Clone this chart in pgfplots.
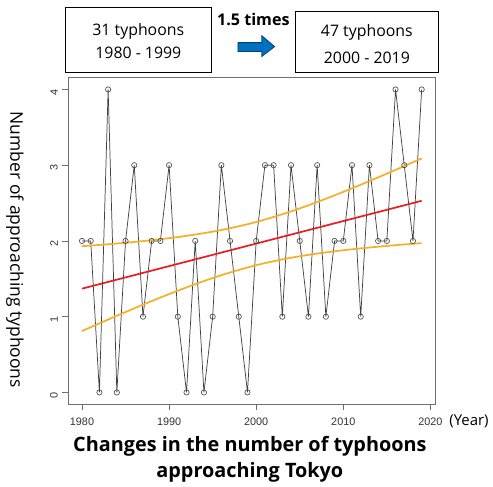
\documentclass[border=0pt]{standalone}
\usepackage{pgfplots}
\pgfplotsset{compat=1.18}
\usepackage{fontspec}
\setmainfont{Open Sans}
\newfontfamily\arialfont{Liberation Sans}
\definecolor{bandorange}{RGB}{245,175,40}
\definecolor{fitred}{RGB}{232,30,35}
\definecolor{arrowblue}{RGB}{0,112,192}
\definecolor{axgray}{RGB}{110,110,110}
\begin{document}
\begin{tikzpicture}[x=0.75pt,y=-0.75pt]
\path (0,0) rectangle (493,490);
\begin{axis}[
  at={(51.75pt,-306pt)}, anchor=south west,
  scale only axis, width=277.5pt, height=247.5pt,
  xmin=1978.44, xmax=2020.56, ymin=-0.16, ymax=4.16,
  xtick={1980,1990,2000,2010,2020}, ytick={0,1,2,3,4},
  xticklabels={1980,1990,2000,2010,2020},
  tick align=outside, major tick length=4.5pt,
  tick style={axgray, line width=0.5pt},
  axis line style={axgray, line width=0.8pt},
  tick label style={font=\arialfont\fontsize{8.2}{9}\selectfont, text=black!80},
  /pgf/number format/assume math mode=true,
  yticklabel style={rotate=90, anchor=south, xshift=-2pt},
  xticklabel style={yshift=-2pt},
  xtick pos=bottom, ytick pos=left,
  clip=false,
]
\addplot[black!75, line width=0.55pt, mark=o, mark size=2pt,
  mark options={fill=white, draw=black!70, line width=0.5pt}] coordinates {
(1980,2)(1981,2)(1982,0)(1983,4)(1984,0)(1985,2)(1986,3)(1987,1)(1988,2)(1989,2)
(1990,3)(1991,1)(1992,0)(1993,2)(1994,0)(1995,1)(1996,3)(1997,2)(1998,1)(1999,0)
(2000,2)(2001,3)(2002,3)(2003,1)(2004,3)(2005,2)(2006,1)(2007,3)(2008,1)(2009,2)
(2010,2)(2011,3)(2012,1)(2013,3)(2014,2)(2015,2)(2016,4)(2017,3)(2018,2)(2019,4)
};
\addplot[fitred, line width=1.3pt] coordinates {(1980,1.37)(2019,2.53)};
\addplot[bandorange, line width=1.3pt, smooth] coordinates {
(1980,1.930)(1984,1.966)(1988,2.010)(1992,2.067)(1996,2.144)(2000,2.250)
(2004,2.390)(2008,2.557)(2012,2.742)(2016,2.938)(2019,3.090)};
\addplot[bandorange, line width=1.3pt, smooth] coordinates {
(1980,0.810)(1984,1.012)(1988,1.206)(1992,1.387)(1996,1.548)(2000,1.680)
(2004,1.778)(2008,1.849)(2012,1.902)(2016,1.944)(2019,1.971)};
\end{axis}
% y label
\node[rotate=-90, font=\fontsize{13.2}{15}\selectfont] at (15,252) {Number of approaching typhoons};
\node[font=\fontsize{11.3}{13}\selectfont] at (473,425) {(Year)};
% title
\node[font=\bfseries\fontsize{15}{17}\selectfont] at (252,450) {Changes in the number of typhoons};
\node[font=\bfseries\fontsize{15}{17}\selectfont] at (252,476) {approaching Tokyo};
% top boxes
\draw[line width=0.8pt] (66,8) rectangle (213,73);
\node[font=\fontsize{12}{14}\selectfont] at (139.5,32) {31 typhoons};
\node[font=\fontsize{12}{14}\selectfont] at (139.5,53) {1980 - 1999};
\draw[line width=0.8pt] (298,12) rectangle (442,73);
\node[font=\fontsize{12}{14}\selectfont] at (370,33) {47 typhoons};
\node[font=\fontsize{12}{14}\selectfont] at (370,58) {2000 - 2019};
\node[font=\bfseries\fontsize{12.2}{14}\selectfont] at (255.5,20) {1.5 times};
\draw[fill=arrowblue, draw=arrowblue!60!black, line width=0.6pt]
  (240,43) -- (264,43) -- (264,36) -- (277,47) -- (264,57) -- (264,52) -- (240,52) -- cycle;
\end{tikzpicture}
\end{document}
